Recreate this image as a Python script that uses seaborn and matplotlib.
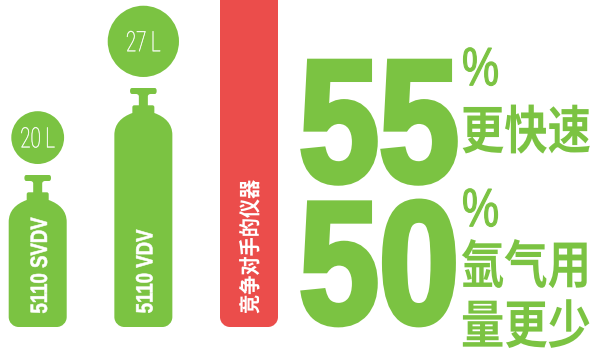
import matplotlib
matplotlib.use("Agg")
import matplotlib.pyplot as plt
import seaborn as sns
from matplotlib.patches import PathPatch
from matplotlib.path import Path
from matplotlib.patheffects import AbstractPathEffect
from matplotlib.transforms import Affine2D

# Instruments and the relative heights of their silhouettes
instruments = ["5110 SVDV", "5110 VDV", "竞争对手的仪器"]
silhouette_heights = [152, 239, 340]
bar_colors = ["#7BC342", "#7BC342", "#EB4D4B"]
tank_litres = [20, 27]
tank_labels = ["20 L", "27 L"]
claim_numbers = ["55", "50"]
claim_captions = ["更快速", "氩气用", "量更少"]

W, H = 593, 354
GREEN = bar_colors[0]
BASE_PX = 327
X0_PX, STEP_PX = 37.7, 105.65
CJK = ["Noto Sans CJK SC", "DejaVu Sans"]
LATIN = ["Liberation Sans", "DejaVu Sans"]
LIGHT = ["Roboto", "DejaVu Sans"]


class Stretch(AbstractPathEffect):
    """Stretch text across its baseline, optionally fattening the strokes."""

    def __init__(self, sy=1.0, grow=0.0):
        super().__init__()
        self.sy, self.grow = sy, grow

    def draw_path(self, renderer, gc, tpath, affine, rgbFace=None):
        _, y0, _, y1 = tpath.get_extents().extents
        mid = (y0 + y1) / 2
        tall = Affine2D().translate(0, -mid).scale(1, self.sy).translate(0, mid) + affine
        g = renderer.new_gc()
        g.copy_properties(gc)
        if self.grow:
            g.set_linewidth(self.grow)
            g.set_foreground(rgbFace)
            g.set_joinstyle("miter")
        renderer.draw_path(g, tpath, tall, rgbFace)
        g.restore()


def cylinder_outline(h):
    """Right half of a gas cylinder, in pixels from its base centre."""
    return [
        [(0, 0)],
        [(19, 0)],
        [(24.5, 0), (29, 4.5), (29, 10)],
        [(29, h - 47)],
        [(29, h - 36), (22, h - 29), (11, h - 25)],
        [(11, h - 19.5)],
        [(11, h - 18), (10.3, h - 17.3), (9, h - 17.3)],
        [(4.5, h - 17.3)],
        [(4.5, h - 8.5)],
        [(4.5, h - 6.7), (6, h - 6), (7.5, h - 6)],
        [(11.3, h - 6)],
        [(12.8, h - 6), (13.3, h - 4.6), (13.3, h - 3)],
        [(13.3, h - 1.2), (12.8, h), (11.3, h)],
        [(0, h)],
    ]


def block_outline(h):
    """Right half of a plain bar with a rounded foot."""
    return [
        [(0, 0)],
        [(19, 0)],
        [(24.5, 0), (29, 4.5), (29, 10)],
        [(29, h)],
        [(0, h)],
    ]


sns.set_theme(style="white")
fig, ax = plt.subplots(figsize=(W / 100, H / 100), dpi=100)
ax.set_position([0, 0, 1, 1])

sns.barplot(x=instruments, y=silhouette_heights, hue=instruments, palette=bar_colors,
            width=0.55, legend=False, ax=ax, saturation=1)
ax.set_xlim(-X0_PX / STEP_PX, (W - X0_PX) / STEP_PX)
ax.set_ylim(BASE_PX - H, BASE_PX)

# Swap each plain bar for a rounded silhouette of the same position and height
for i, bar in enumerate(list(ax.patches)):
    cx = bar.get_x() + bar.get_width() / 2
    h = bar.get_height()
    color = bar.get_facecolor()
    bar.remove()
    half = cylinder_outline(h) if i < len(tank_litres) else block_outline(h)
    pts = [half[0][0]]
    codes = [Path.MOVETO]
    for seg in half[1:]:
        for p in seg:
            pts.append(p)
            codes.append(Path.LINETO if len(seg) == 1 else Path.CURVE4)
    back = [(-x, y) for x, y in reversed(pts[:-1])]
    verts = [(cx + x / STEP_PX, y) for x, y in pts + back]
    ax.add_patch(PathPatch(Path(verts, codes + codes[:0:-1]), facecolor=color, edgecolor="none"))

# Capacity circles, with the radius proportional to the litres
radii = [1.32 * v for v in tank_litres]
centres = [silhouette_heights[i] + 11 + radii[i] for i in range(len(tank_litres))]
sns.scatterplot(x=list(range(len(tank_litres))), y=centres,
                s=[(2 * r * 0.72) ** 2 for r in radii], color=GREEN, linewidth=0,
                ax=ax, legend=False)
ax.set_axis_off()


def px_text(x, y, s, size, color, family, sy=1.0, grow=0.0, weight="normal", rotation=0):
    fig.text(x / W, 1 - y / H, s, fontsize=size, color=color, family=family, weight=weight,
             rotation=rotation, ha="center", va="center", rotation_mode="anchor",
             path_effects=[Stretch(sy, grow)])


# Capacity labels
for i, label in enumerate(tank_labels):
    px_text(X0_PX + i * STEP_PX, BASE_PX - centres[i] + 1.5, label, 13.5, "white", LIGHT,
            sy=1.5, grow=0.3, weight="light")

# Instrument names running up the silhouettes
px_text(40.7, 265.5, instruments[0], 13.4, "white", LATIN, sy=1.27, grow=0.4, weight="bold", rotation=90)
px_text(146.2, 271.5, instruments[1], 13.4, "white", LATIN, sy=1.27, grow=0.4, weight="bold", rotation=90)
px_text(251, 247, instruments[2], 13.8, "white", CJK, sy=1.13, weight="bold", rotation=90)

# Headline numbers
px_text(379, 133.5, claim_numbers[0], 103.6, GREEN, LATIN, sy=1.21, grow=4, weight="bold")
px_text(379, 275, claim_numbers[1], 103.6, GREEN, LATIN, sy=1.21, grow=4, weight="bold")

# Percent signs and captions
px_text(480.5, 70, "%", 30, GREEN, LATIN, sy=1.3, grow=0.8)
px_text(480.5, 211, "%", 30, GREEN, LATIN, sy=1.3, grow=0.8)
px_text(526, 132.5, claim_captions[0], 31.2, GREEN, CJK, sy=1.2, weight="bold")
px_text(526, 267, claim_captions[1], 31.2, GREEN, CJK, sy=1.2, weight="bold")
px_text(526, 327, claim_captions[2], 31.2, GREEN, CJK, sy=1.2, weight="bold")

fig.savefig("out.png", dpi=100)
